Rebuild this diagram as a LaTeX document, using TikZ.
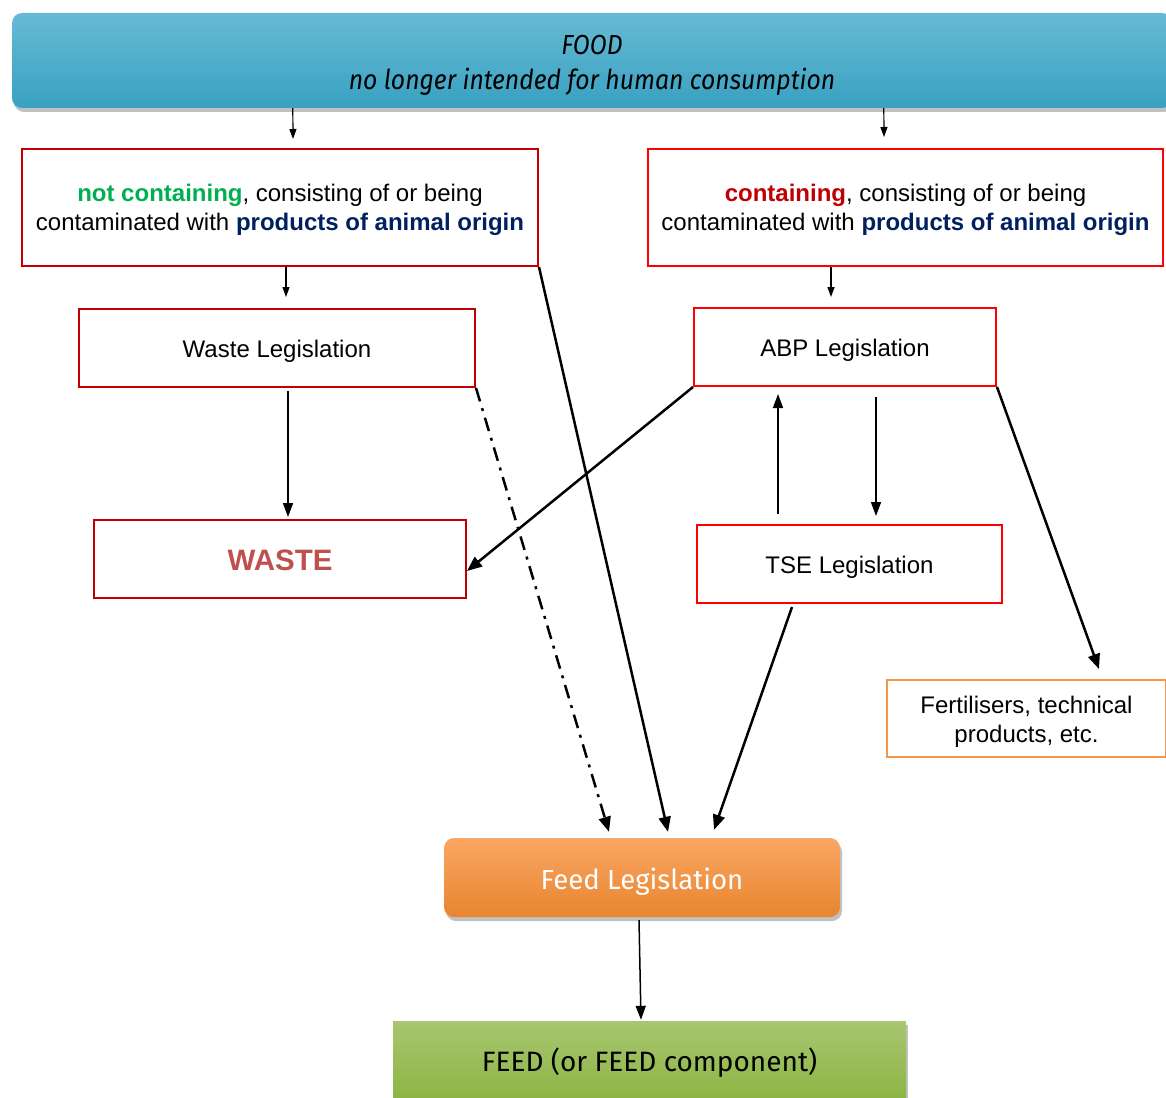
\documentclass[tikz,border=0pt]{standalone}
\usepackage{fontspec}
\usepackage{graphicx}
\setmainfont{Liberation Sans}
\newfontfamily\headfont{Fira Sans}
\usetikzlibrary{arrows.meta,shadows,calc}

\definecolor{boxdark}{HTML}{C00000}
\definecolor{boxbright}{HTML}{FF0000}
\definecolor{notgreen}{HTML}{00B050}
\definecolor{originblue}{HTML}{002060}
\definecolor{wastered}{HTML}{C0504D}
\definecolor{fertorange}{HTML}{F79646}
\definecolor{bannertop}{HTML}{68BAD4}
\definecolor{bannerbot}{HTML}{38A1C1}
\definecolor{feedtop}{HTML}{FAA664}
\definecolor{feedbot}{HTML}{E8852F}
\definecolor{greentop}{HTML}{A8C66F}
\definecolor{greenbot}{HTML}{8BB442}

% centred lines, set a little lower than the geometric centre of their box
\newcommand\lowtext[2][3pt]{\raisebox{-#1}[\height][\depth]{\begin{tabular}{@{}c@{}}#2\end{tabular}}}

\tikzset{
  txt/.style={font=\fontsize{24}{29}\selectfont, inner sep=0pt},
  redbox/.style={txt, draw=boxdark, line width=2pt, rectangle},
  brightbox/.style={txt, draw=boxbright, line width=2pt, rectangle},
  thinarr/.style={line width=1.2pt, -{Triangle[length=10pt,width=7pt]}},
  midarr/.style={line width=1.5pt, -{Triangle[length=14pt,width=10pt]}},
  bigarr/.style={line width=2.5pt, -{Triangle[length=15pt,width=12pt]}},
  softshadow/.style={drop shadow={shadow xshift=2pt, shadow yshift=-4pt, opacity=0.35, fill=black!70}},
}

\begin{document}
\begin{tikzpicture}[x=1pt,y=-1pt]
\useasboundingbox (0,0) rectangle (1166,1097);

% banner
\node[softshadow, rounded corners=10pt, minimum width=1160pt, minimum height=95pt,
      top color=bannertop, bottom color=bannerbot, draw=none, inner sep=0pt,
      font=\headfont\itshape\fontsize{27.5}{35}\selectfont]
      (food) at (592,60.5) {\lowtext[5pt]{\scalebox{0.9}[1]{FOOD}\\ \scalebox{0.9}[1]{no longer intended for human consumption}}};

% first split
\node[redbox, minimum width=516pt, minimum height=117pt] (left) at (280,207.5)
  {\lowtext{\textbf{\color{notgreen}not containing}, consisting of or being\\contaminated with \textbf{\color{originblue}products of animal origin}}};
\node[brightbox, minimum width=515pt, minimum height=117pt] (right) at (905.5,207.5)
  {\lowtext{\textbf{\color{boxdark}containing}, consisting of or being\\contaminated with \textbf{\color{originblue}products of animal origin}}};

% legislation boxes
\node[redbox, minimum width=396pt, minimum height=78pt] (wl) at (277,348) {\lowtext[4pt]{Waste Legislation}};
\node[brightbox, minimum width=302pt, minimum height=78pt] (abp) at (845,347) {\lowtext[4pt]{ABP Legislation}};
\node[redbox, minimum width=372pt, minimum height=78pt, font=\bfseries\fontsize{29.5}{34}\selectfont, text=wastered]
  (waste) at (280,559) {\lowtext[5pt]{WASTE}};
\node[brightbox, minimum width=305pt, minimum height=78pt] (tse) at (849.5,564) {\lowtext[4pt]{TSE Legislation}};
\node[txt, draw=fertorange, line width=2pt, minimum width=279pt, minimum height=77pt]
  (fert) at (1026.5,718.5) {\lowtext[4pt]{Fertilisers, technical\\products, etc.}};

% feed legislation and feed
\node[softshadow, rounded corners=10pt, minimum width=396pt, minimum height=79pt,
      top color=feedtop, bottom color=feedbot, inner sep=0pt,
      font=\headfont\fontsize{27.6}{32}\selectfont, text=white]
  (feed) at (642,877.5) {\lowtext[6pt]{Feed Legislation}};
\node[softshadow, minimum width=513pt, minimum height=82pt,
      top color=greentop, bottom color=greenbot, inner sep=0pt,
      font=\headfont\fontsize{28}{32}\selectfont, text=black]
  (feedout) at (649.5,1062) {\lowtext[2pt]{FEED (or FEED component)}};

% connectors
\draw[thinarr] ([xshift=281pt]food.south west) -- ([xshift=13pt,yshift=9pt]left.north);
\draw[thinarr] ([xshift=872pt]food.south west) -- ([xshift=-21.5pt,yshift=11pt]right.north);
\draw[thinarr] ([xshift=6pt]left.south) -- ([xshift=9pt,yshift=11pt]wl.north);
\draw[thinarr] ([xshift=-74.5pt]right.south) -- ([xshift=-14pt,yshift=10pt]abp.north);
\draw[midarr] ([xshift=11pt,yshift=-3pt]wl.south) -- ([xshift=8pt,yshift=2pt]waste.north);
\draw[bigarr] (abp.south west) -- ([yshift=-12pt]waste.east);
\draw[midarr] ([xshift=-71.5pt,yshift=10pt]tse.north) -- ([xshift=-67pt,yshift=-7pt]abp.south);
\draw[midarr] ([xshift=31pt,yshift=-10pt]abp.south) -- ([xshift=26.5pt,yshift=8pt]tse.north);
\draw[bigarr] ([xshift=-57.5pt,yshift=-3pt]tse.south) -- ([xshift=72pt,yshift=8pt]feed.north);
\draw[bigarr] (left.south east) -- ([xshift=26pt,yshift=6pt]feed.north);
\draw[bigarr, dash pattern=on 14pt off 7pt on 3pt off 7pt] (wl.south east) -- ([xshift=-33pt,yshift=6pt]feed.north);
\draw[bigarr] (abp.south east) -- ([xshift=72.5pt,yshift=10pt]fert.north);
\draw[midarr] ([xshift=-3pt,yshift=-3pt]feed.south) -- ([xshift=-8.5pt,yshift=1pt]feedout.north);
\end{tikzpicture}
\end{document}
